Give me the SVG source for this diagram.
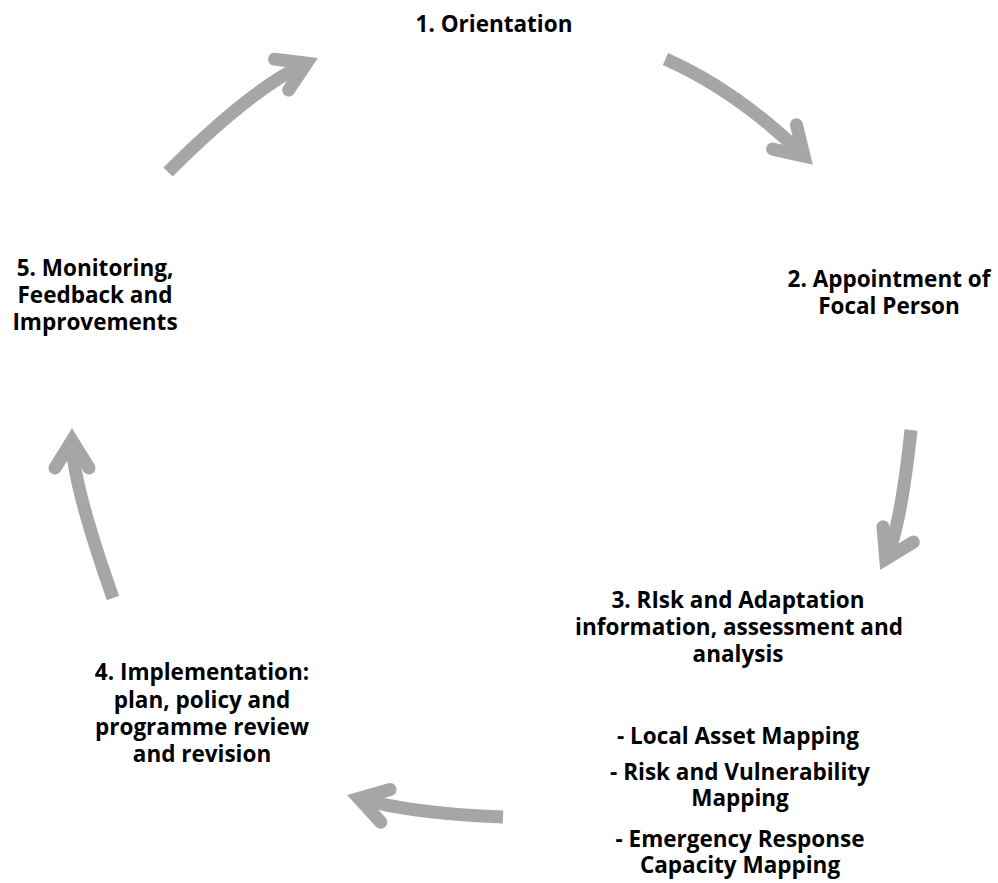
<svg xmlns="http://www.w3.org/2000/svg" width="998" height="883" viewBox="0 0 998 883">
  <style>
    .lbl { font-family: "Open Sans", Lato, "Liberation Sans", sans-serif; font-weight: bold; font-size: 22.5px; fill: #000; text-anchor: middle; }
    .shaft { fill: none; stroke: #a6a6a6; stroke-width: 13; stroke-linecap: butt; }
  </style>
  <defs>
    <marker id="head" markerUnits="userSpaceOnUse" refX="0" refY="0" markerWidth="80" markerHeight="80" orient="auto" overflow="visible">
      <path d="M -27.5,-17 L 0,0 L -27.5,17" fill="none" stroke="#a6a6a6" stroke-width="13" stroke-linecap="round" stroke-linejoin="miter" stroke-miterlimit="10"/>
    </marker>
  </defs>
  <rect width="998" height="883" fill="#fff"/>
  <g id="connectors">
    <path class="shaft" d="M 168,172 Q 251.8,88.2 306.6,63.2" marker-end="url(#head)"/>
    <path class="shaft" d="M 665.5,59 Q 738.1,91.3 804.1,156.2" marker-end="url(#head)"/>
    <path class="shaft" d="M 911,430 Q 900.3,530.2 885.7,558.9" marker-end="url(#head)"/>
    <path class="shaft" d="M 503,817 C 450,815 400,810 359,798.4" marker-end="url(#head)"/>
    <path class="shaft" d="M 113,598 Q 72,482 72,440.5" marker-end="url(#head)"/>
  </g>
  <g id="node1">
    <text class="lbl" x="494" y="32">1. Orientation</text>
  </g>
  <g id="node2">
    <text class="lbl" x="889" y="287">2. Appointment of</text>
    <text class="lbl" x="889" y="314">Focal Person</text>
  </g>
  <g id="node3">
    <text class="lbl" x="738" y="608">3. RIsk and Adaptation</text>
    <text class="lbl" x="739" y="635">information, assessment and</text>
    <text class="lbl" x="738" y="662">analysis</text>
    <text class="lbl" x="738" y="744">- Local Asset Mapping</text>
    <text class="lbl" x="740" y="780">- Risk and Vulnerability</text>
    <text class="lbl" x="740" y="806">Mapping</text>
    <text class="lbl" x="740" y="847">- Emergency Response</text>
    <text class="lbl" x="740" y="873">Capacity Mapping</text>
  </g>
  <g id="node4">
    <text class="lbl" x="202" y="680">4. Implementation:</text>
    <text class="lbl" x="202" y="708">plan, policy and</text>
    <text class="lbl" x="202" y="735">programme review</text>
    <text class="lbl" x="202" y="762">and revision</text>
  </g>
  <g id="node5">
    <text class="lbl" x="95" y="276">5. Monitoring,</text>
    <text class="lbl" x="95" y="303">Feedback and</text>
    <text class="lbl" x="95" y="330">Improvements</text>
  </g>
</svg>
